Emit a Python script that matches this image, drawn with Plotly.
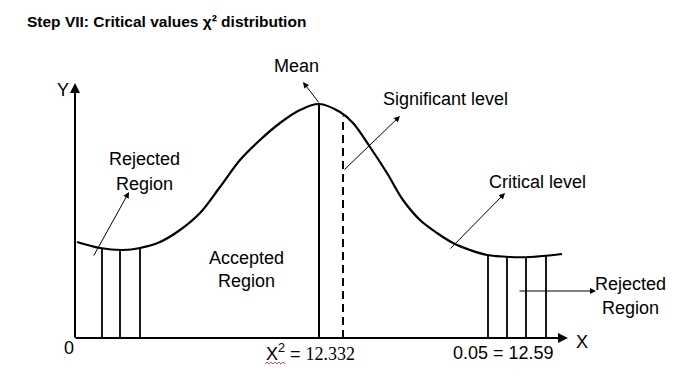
import numpy as np
import plotly.graph_objects as go

# Diagram coordinates: x to the right, y = height above the X axis
curve_x = [77, 100, 123, 140, 160, 180, 200, 220, 240, 260, 280, 300, 319, 340, 353, 370,
           387, 403, 420, 437, 453, 470, 487, 510, 530, 562]
curve_y = [96, 90, 88, 90, 96, 108, 125, 151, 178, 198, 215, 228, 234, 226, 215, 191,
           165, 138, 118, 105, 95, 88, 83, 81, 81, 84]

mean_x = 319
signif_x = 343
reject_left_x = [102, 120, 140]
reject_right_x = [488, 507, 526, 546]

axis_origin = (75, 0)
x_axis_end = 568
y_axis_end = 255

title_text = "Step VII: Critical values χ² distribution"

def curve_at(x):
    return float(np.interp(x, curve_x, curve_y))

fig = go.Figure()

# curve
fig.add_trace(go.Scatter(x=curve_x, y=curve_y, mode="lines",
                         line=dict(color="black", width=2.2, shape="spline", smoothing=1.0),
                         hoverinfo="skip"))

# mean line
fig.add_trace(go.Scatter(x=[mean_x, mean_x], y=[0, curve_at(mean_x)], mode="lines",
                         line=dict(color="black", width=2), hoverinfo="skip"))
# significance dashed line
fig.add_trace(go.Scatter(x=[signif_x, signif_x], y=[0, curve_at(signif_x) - 2], mode="lines",
                         line=dict(color="black", width=2, dash="8px,5px"), hoverinfo="skip"))

# rejection region verticals
vx, vy = [], []
for xv in reject_left_x + reject_right_x:
    vx += [xv, xv, None]
    vy += [0, curve_at(xv), None]
fig.add_trace(go.Scatter(x=vx, y=vy, mode="lines",
                         line=dict(color="black", width=1.8), hoverinfo="skip"))

# spell-check squiggle under the X of the X² label
sq_x = [265 + 2 * i for i in range(11)]
sq_y = [338 - 363 + (1 if i % 2 else -1) for i in range(11)]
fig.add_trace(go.Scatter(x=sq_x, y=sq_y, mode="lines",
                         line=dict(color="#d02020", width=0.8), hoverinfo="skip"))

ann = []
def arrow(x0, y0, x1, y1, w=1, size=1.2):
    ann.append(dict(x=x1, y=y1, ax=x0, ay=y0, xref="x", yref="y", axref="x", ayref="y",
                    showarrow=True, arrowhead=2, arrowsize=size, arrowwidth=w,
                    arrowcolor="black", text=""))

# axes
arrow(axis_origin[0] - 1, 0, x_axis_end, 0, w=2, size=1.0)
arrow(axis_origin[0], -1, axis_origin[0], y_axis_end, w=2, size=1.0)

# pointer arrows (y measured from X axis at pixel 338)
arrow(93, 338 - 257, 129, 338 - 192)
arrow(mean_x + 1, 338 - 104, 303, 338 - 82)
arrow(signif_x, 338 - 171, 400, 338 - 116)
arrow(449, 338 - 250, 505, 338 - 193)
arrow(518, 338 - 291, 596, 338 - 291)

def label(x, y, text, size=18, family="Liberation Sans, Arial", xanchor="center", color="black"):
    ann.append(dict(x=x, y=338 - y, xref="x", yref="y", text=text, showarrow=False,
                    xanchor=xanchor, yanchor="middle",
                    font=dict(size=size, family=family, color=color)))

label(63, 90, "Y")
label(69, 348, "0")
label(582, 342, "X")
label(144, 159, "Rejected")
label(144, 184, "Region")
label(296, 66, "Mean")
label(381, 99, "Significant level", xanchor="left")
label(246, 258, "Accepted")
label(246, 281, "Region")
label(487, 182, "Critical level", xanchor="left")
label(630, 284, "Rejected")
label(630, 308, "Region")
label(503, 353, "0.05 = 12.59")
label(264, 352, "X<sup>2</sup> = <span style='font-family:Liberation Serif, Times New Roman'>12.332</span>",
      xanchor="left")
ann.append(dict(x=25, y=338 - 21, xref="x", yref="y", text="<b>" + title_text + "</b>",
                showarrow=False, xanchor="left", yanchor="middle",
                font=dict(size=15.5, family="Liberation Sans, Arial", color="black")))

fig.update_layout(
    width=677, height=377,
    margin=dict(l=0, r=0, t=0, b=0),
    paper_bgcolor="white", plot_bgcolor="white",
    showlegend=False,
    annotations=ann,
    xaxis=dict(range=[0, 677], visible=False, fixedrange=True),
    yaxis=dict(range=[338 - 377, 338], visible=False, fixedrange=True),
)

fig.write_html("out.html", config={"displayModeBar": False},
               post_script="document.body.style.margin='0';document.body.style.overflow='hidden';")
